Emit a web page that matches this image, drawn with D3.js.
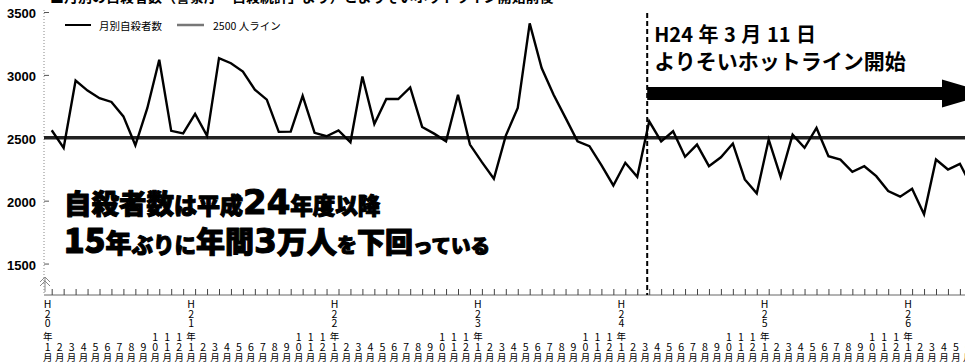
<!DOCTYPE html>
<html lang="ja">
<head>
<meta charset="utf-8">
<script src="https://cdn.jsdelivr.net/npm/d3@7/dist/d3.min.js"></script>
<style>
  html, body { margin: 0; padding: 0; background: #fff; }
  svg { display: block; }
  text { font-family: "Noto Sans CJK JP", "Noto Sans", sans-serif; fill: #000; }
</style>
</head>
<body>
<svg id="chart" width="965" height="363"></svg>
<script>
// Monthly suicide counts, H20 (2008) Jan through H26 (2014) Jun
const eraYears = ["H20", "H21", "H22", "H23", "H24", "H25", "H26"];
const monthNumbers = [1, 2, 3, 4, 5, 6, 7, 8, 9, 10, 11, 12];
const monthlySuicides = [
  2560, 2420, 2955, 2875, 2815, 2785, 2670, 2440, 2735, 3120, 2555, 2535, // H20
  2690, 2515, 3133, 3093, 3027, 2882, 2803, 2547, 2549, 2834, 2539, 2512, // H21
  2559, 2464, 2987, 2610, 2808, 2808, 2900, 2586, 2533, 2472, 2842, 2446, // H22
  2306, 2174, 2517, 2737, 3410, 3054, 2842, 2658, 2472, 2433, 2283, 2121, // H23
  2301, 2190, 2631, 2472, 2552, 2349, 2446, 2274, 2345, 2454, 2169, 2058, // H24
  2486, 2190, 2525, 2420, 2578, 2353, 2327, 2230, 2274, 2195, 2076, 2032, // H25
  2095, 1892, 2327, 2248, 2293, 2110                                       // H26
];
const yTicks = [1500, 2000, 2500, 3000, 3500];
const referenceLevel = 2500;
const hotlineStartIndex = 50; // H24 3月
const seriesNames = ["月別自殺者数", "2500 人ライン"];
const hotlineLabel = ["H24 年 3 月 11 日", "よりそいホットライン開始"];
const captionText = "■月別の自殺者数（警察庁「自殺統計」より）とよりそいホットライン開始前後";

const svg = d3.select("#chart");

const x = d3.scaleLinear().domain([0, monthlySuicides.length - 1])
  .range([51.7, 51.7 + 11.95 * (monthlySuicides.length - 1)]);
const y = d3.scaleLinear().domain([1250, 3500]).range([295, 12]);

// caption running off the top edge
svg.append("text").attr("x", 50).attr("y", 1.5)
  .attr("font-size", 14).attr("font-weight", 700).attr("fill", "#222")
  .text(captionText);

// y axis: dotted spine, short inward ticks, bold labels
svg.append("line").attr("x1", 44).attr("x2", 44).attr("y1", 10).attr("y2", 295)
  .attr("stroke", "#888").attr("stroke-width", 1).attr("stroke-dasharray", "1,2");
const yAxis = svg.append("g").attr("transform", "translate(44,0)")
  .call(d3.axisLeft(y).tickValues(yTicks).tickSize(-5).tickPadding(8).tickFormat(d3.format("d")));
yAxis.select(".domain").remove();
yAxis.selectAll(".tick line").attr("stroke", "#555");
yAxis.selectAll(".tick text")
  .style("font-family", "'Liberation Sans', Arial, sans-serif")
  .attr("font-size", 13).attr("font-weight", 700).attr("dy", "0.42em");

// axis break mark near the bottom of the value axis
const brk = svg.append("g").attr("fill", "none").attr("stroke", "#888").attr("stroke-width", 1);
brk.append("path").attr("d", "M40,282 L45,277 L50,282 M40,286 L45,281 L50,286 M45,277 L45,292");

// x axis baseline with a tick at every month
const xAxis = svg.append("g").attr("transform", `translate(0,${y(1250)})`)
  .call(d3.axisBottom(x).tickValues(d3.range(monthlySuicides.length)).tickSize(-6).tickFormat(""));
xAxis.select(".domain").attr("d", `M44,0H965`).attr("stroke", "#666");
xAxis.selectAll(".tick line").attr("stroke", "#444");

// stacked vertical month labels
const rowY = [357, 346.5, 336, 322.5, 313, 303];
monthlySuicides.forEach((_, i) => {
  const m = monthNumbers[i % 12];
  const era = eraYears[Math.floor(i / 12)];
  const chars = ["月"].concat(String(m).split("").reverse());
  if (m === 1) {
    chars.push("年");
    chars.push(...era.slice(1).split("").reverse());
    chars.push("H");
  }
  const g = svg.append("g").attr("transform", `translate(${x(i) - 4},0)`);
  chars.forEach((c, k) => {
    g.append("text").attr("x", 0).attr("y", rowY[k])
      .attr("text-anchor", "middle").attr("dominant-baseline", "central")
      .attr("font-size", c === "月" || c === "年" ? 9.5 : 10.5)
      .text(c);
  });
});

// 2500 reference line
svg.append("line")
  .attr("x1", 44).attr("x2", 965)
  .attr("y1", y(referenceLevel)).attr("y2", y(referenceLevel))
  .attr("stroke", "#222").attr("stroke-width", 3.5);

// monthly series
const line = d3.line().x((d, i) => x(i)).y(d => y(d));
svg.append("path").datum(monthlySuicides)
  .attr("d", line).attr("fill", "none")
  .attr("stroke", "#000").attr("stroke-width", 2.4).attr("stroke-linejoin", "miter");

// hotline start marker
const xs = x(hotlineStartIndex) - 2;
svg.append("line").attr("x1", xs).attr("x2", xs).attr("y1", 13).attr("y2", 295)
  .attr("stroke", "#000").attr("stroke-width", 2).attr("stroke-dasharray", "5,3");

svg.append("text").attr("x", xs + 7).attr("y", 42)
  .attr("font-size", 20).attr("font-weight", 700).attr("word-spacing", 1).text(hotlineLabel[0]);
svg.append("text").attr("x", xs + 7).attr("y", 69)
  .attr("font-size", 21).attr("font-weight", 700).text(hotlineLabel[1]);

// arrow running off to the right
const ay = 93.5;
svg.append("path")
  .attr("d", `M${xs},${ay - 6.5} L942,${ay - 6.5} L942,${ay - 14} L990,${ay} L942,${ay + 14} L942,${ay + 6.5} L${xs},${ay + 6.5} Z`)
  .attr("fill", "#000");

// legend
const lg = svg.append("g");
lg.append("line").attr("x1", 65).attr("x2", 91).attr("y1", 25).attr("y2", 25)
  .attr("stroke", "#000").attr("stroke-width", 2);
lg.append("text").attr("x", 99).attr("y", 25).attr("dominant-baseline", "central")
  .attr("font-size", 10.5).text(seriesNames[0]);
lg.append("line").attr("x1", 177).attr("x2", 204).attr("y1", 25).attr("y2", 25)
  .attr("stroke", "#777").attr("stroke-width", 2.5);
lg.append("text").attr("x", 213).attr("y", 25).attr("dominant-baseline", "central")
  .attr("font-size", 10.5).text(seriesNames[1]);

// headline, heavy weight thickened with a stroke; digits set in a wide bold face
const wideDigits = "'DejaVu Sans', sans-serif";
const big = [
  [["自殺者数", 27.5, null], ["は平成", 23, null], ["24", 34, wideDigits], ["年度以降", 22.5, null]],
  [["15", 34, null], ["年", 26, null], ["ぶりに", 21.5, null], ["年間", 29, null], ["3", 33, wideDigits],
   ["万人", 30, null], ["を", 20, null], ["下回", 28, null], ["っている", 19.5, null]]
];
[214, 253].forEach((by, r) => {
  const t = svg.append("text").attr("x", 64).attr("y", by).attr("font-weight", 900)
    .attr("stroke", "#000").attr("stroke-width", 1.1).attr("stroke-linejoin", "round");
  big[r].forEach(([s, fs, ff]) => {
    const sp = t.append("tspan").attr("font-size", fs).text(s);
    if (ff) sp.style("font-family", ff).attr("font-weight", 700);
  });
});
</script>
</body>
</html>
